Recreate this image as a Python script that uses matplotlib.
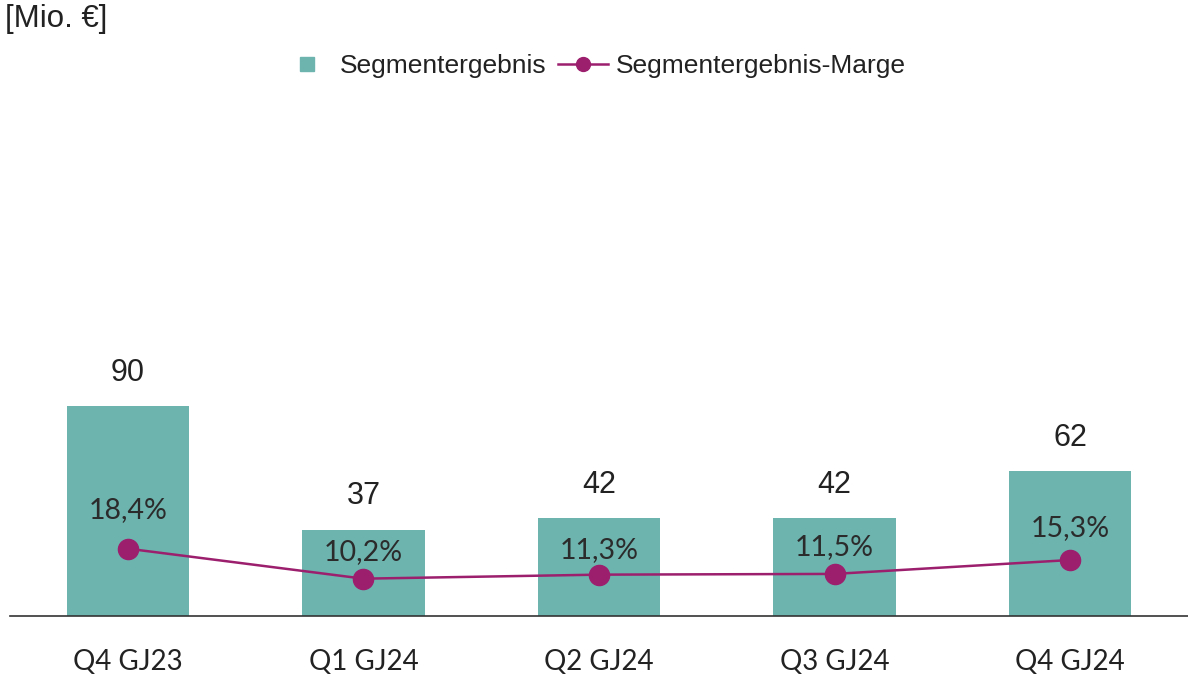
import matplotlib.pyplot as plt

quarters = ["Q4 GJ23", "Q1 GJ24", "Q2 GJ24", "Q3 GJ24", "Q4 GJ24"]
ergebnis = [90, 37, 42, 42, 62]
marge = [18.4, 10.2, 11.3, 11.5, 15.3]

bar_color = "#6db3ae"
line_color = "#9c1f6e"
text_color = "#222222"

fig = plt.figure(figsize=(11.88, 6.78), dpi=100)
ax = fig.add_axes([10 / 1188, 62 / 678, 1178 / 1188, 516 / 678])
ax2 = ax.twinx()

x = list(range(len(quarters)))
ax.bar(x, ergebnis, width=0.52, color=bar_color, zorder=1)
ax.set_xlim(-0.5, len(quarters) - 0.5)
ax.set_ylim(0, 221)

# value labels above the bars
for xi, v in zip(x, ergebnis):
    ax.annotate(str(v), (xi, v), xytext=(0, 24), textcoords="offset points",
                ha="center", va="center", fontsize=22,
                family="Liberation Sans", color=text_color)

ax2.plot(x, marge, color=line_color, lw=1.8, marker="o", markersize=14.5,
         zorder=3)
ax2.set_ylim(0, 141)

# percent labels, offsets in points
pct_offsets = [28, 19.5, 18, 19, 23]
for xi, v, off in zip(x, marge, pct_offsets):
    ax2.annotate(f"{v:.1f}%".replace(".", ","), (xi, v), xytext=(0, off),
                 textcoords="offset points", ha="center", va="center",
                 fontsize=20.5, family="Lato", color="#2b2b2b")

for a in (ax, ax2):
    for s in ("top", "right", "left"):
        a.spines[s].set_visible(False)
    a.set_yticks([])
ax2.spines["bottom"].set_visible(False)
ax.spines["bottom"].set_color("#333333")
ax.spines["bottom"].set_linewidth(1.2)

ax.set_xticks(x)
ax.set_xticklabels(quarters, fontsize=20, family="Lato", color=text_color)
ax.tick_params(axis="x", length=0, pad=24)

fig.text(5 / 1188, 1 - 19 / 678, "[Mio. €]", fontsize=22.5,
         family="Liberation Sans", color=text_color, va="center", ha="left")

h1 = plt.Line2D([], [], ls="none", marker="s", markersize=10,
                color=bar_color)
h2 = plt.Line2D([], [], color=line_color, lw=1.8, marker="o", markersize=10)
fig.legend([h1, h2], ["Segmentergebnis", "Segmentergebnis-Marge"],
           loc="center", bbox_to_anchor=(0.5, 1 - 66 / 678), ncol=2,
           frameon=False, handlelength=1.9, columnspacing=0.45,
           handletextpad=0.3,
           prop={"family": "Liberation Sans", "size": 19})
for t in fig.legends[0].get_texts():
    t.set_color(text_color)

fig.savefig("out.png", dpi=100)
